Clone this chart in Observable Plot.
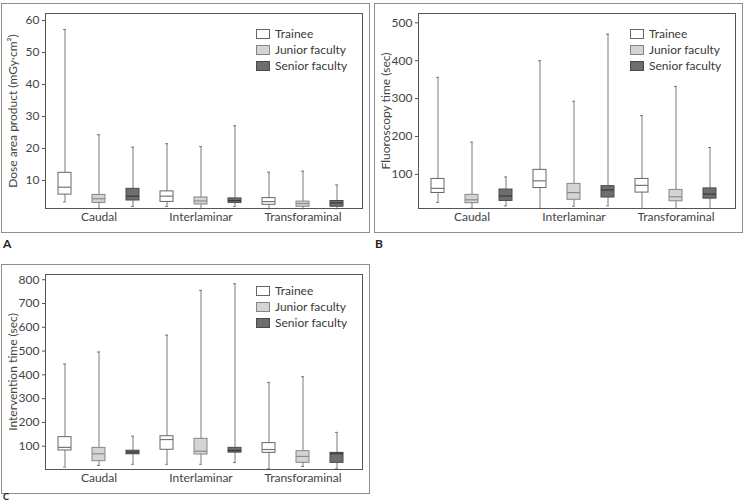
<!DOCTYPE html>
<html>
<head>
<meta charset="utf-8">
<script src="https://cdn.jsdelivr.net/npm/d3@7"></script>
<script src="https://cdn.jsdelivr.net/npm/@observablehq/plot@0.6"></script>
<style>
  html, body { margin: 0; padding: 0; background: #fff; width: 753px; height: 501px; overflow: hidden; }
  body { position: relative; font-family: Lato, "DejaVu Sans", sans-serif; color: #333; }
  .panel { position: absolute; box-sizing: border-box; border: 1px solid #8e8e8e; width: 369px; height: 230px; }
  .panel svg { display: block; }
  .legend { position: absolute; font-size: 12px; color: #3a3a3a; line-height: 16px; }
  .legend .row { display: flex; align-items: center; height: 16px; }
  .legend .sw { width: 12px; height: 8px; border: 1px solid #555; margin-right: 5px; }
  .tag { position: absolute; font-size: 12px; font-weight: bold; color: #222; line-height: 12px; }
</style>
</head>
<body>
<div id="pA" class="panel" style="left:1px; top:3px;"></div>
<div id="pB" class="panel" style="left:374px; top:3px;"></div>
<div id="pC" class="panel" style="left:1px; top:264px;"></div>
<div class="tag" style="left:3px; top:238px;">A</div>
<div class="tag" style="left:375px; top:238px;">B</div>
<div class="tag" style="left:3px; top:492px; font-size:9px; line-height:9px;">C</div>
<script>
// Categories and series
const groups = ["Caudal", "Interlaminar", "Transforaminal"];
const series = ["Trainee", "Junior faculty", "Senior faculty"];
const seriesFill = ["#ffffff", "#d4d4d4", "#6e6e6e"];
const seriesStroke = ["#666666", "#858585", "#4a4a4a"];
const seriesMedian = ["#777777", "#8a8a8a", "#3a3a3a"];

// Values in order: Caudal(Trainee, Junior, Senior), Interlaminar(...), Transforaminal(...)
// A: Dose area product (mGy·cm²)
const doseMin    = [3.3, 1.2, 1.9, 1.9, 1.2, 1.9, 1.2, 1.2, 1.2];
const doseQ1     = [5.6, 3.0, 3.75, 3.3, 2.5, 3.0, 2.4, 1.8, 1.8];
const doseMedian = [7.9, 4.3, 5.1, 5.1, 3.6, 3.75, 3.4, 2.8, 3.0];
const doseQ3     = [12.4, 5.5, 7.4, 6.6, 4.7, 4.4, 4.5, 3.4, 3.6];
const doseMax    = [57.2, 24.3, 20.4, 21.5, 20.6, 27.1, 12.6, 12.9, 8.6];
const doseTicks  = [10, 20, 30, 40, 50, 60];

// B: Fluoroscopy time (sec)
const fluoroMin    = [26, 11, 17, 10, 16, 17, 10, 10, 10];
const fluoroQ1     = [51, 24, 30, 64, 33, 39, 52, 29, 36];
const fluoroMedian = [63, 33, 43, 83, 52, 59, 71, 41, 48];
const fluoroQ3     = [88, 46, 60, 112, 75, 69, 88, 59, 63];
const fluoroMax    = [356, 185, 93, 400, 293, 470, 255, 332, 171];
const fluoroTicks  = [100, 200, 300, 400, 500];

// C: Intervention time (sec)
const interMin    = [12, 19, 24, 24, 24, 31, 5, 15, 5];
const interQ1     = [82, 37, 66, 85, 65, 73, 72, 30, 30];
const interMedian = [95, 68, 75, 128, 79, 82, 86, 57, 69];
const interQ3     = [138, 93, 81, 142, 131, 93, 113, 79, 72];
const interMax    = [445, 496, 142, 567, 755, 783, 368, 392, 158];
const interTicks  = [100, 200, 300, 400, 500, 600, 700, 800];

function buildRows(mins, q1s, meds, q3s, maxs) {
  const rows = [];
  let i = 0;
  for (const g of groups) {
    for (const s of series) {
      rows.push({key: g + "|" + s, group: g, series: s, min: mins[i], q1: q1s[i], median: meds[i], q3: q3s[i], max: maxs[i]});
      i++;
    }
  }
  return rows;
}

const keys = groups.flatMap(g => series.map(s => g + "|" + s));
const labelKeys = groups.map(g => g + "|" + series[1]);

function drawPanel(id, rows, ylabel, yDomain, yTicks, legendPos) {
  const el = document.getElementById(id);
  const boxMarks = series.map((s, i) => {
    const sub = rows.filter(d => d.series === s);
    return [
      Plot.barY(sub, {x: "key", y1: "q1", y2: "q3", fill: seriesFill[i], stroke: seriesStroke[i], strokeWidth: 1}),
      Plot.tickY(sub, {x: "key", y: "median", stroke: seriesMedian[i], strokeWidth: 1.2})
    ];
  });
  const chart = Plot.plot({
    width: 367,
    height: 228,
    marginLeft: 43,
    marginRight: 7,
    marginTop: 9,
    marginBottom: 24,
    style: {fontFamily: "Lato, 'DejaVu Sans', sans-serif", fontSize: "12px", color: "#444", background: "transparent"},
    x: {type: "band", domain: keys, paddingInner: 0.62, paddingOuter: 0.38, align: 0.42, axis: null},
    y: {domain: yDomain, axis: null},
    marks: [
      Plot.ruleX(rows, {x: "key", y1: "min", y2: "max", stroke: "#7a7a7a", strokeWidth: 1}),
      Plot.tickY(rows, {x: "key", y: "max", stroke: "#7a7a7a", insetLeft: 5, insetRight: 5}),
      Plot.tickY(rows, {x: "key", y: "min", stroke: "#7a7a7a", insetLeft: 5, insetRight: 5}),
      ...boxMarks.flat(),
      Plot.axisY({ticks: yTicks, tickSize: 3, tickPadding: 3, label: ylabel, labelAnchor: "center", labelArrow: "none", labelOffset: 37, stroke: "#555"}),
      Plot.axisX({ticks: labelKeys, tickSize: 0, tickPadding: 4, tickFormat: d => d.split("|")[0], label: null}),
      Plot.frame({stroke: "#555", strokeWidth: 1})
    ]
  });
  el.appendChild(chart);
  const lg = document.createElement("div");
  lg.className = "legend";
  lg.style.left = legendPos[0] + "px";
  lg.style.top = legendPos[1] + "px";
  series.forEach((s, i) => {
    const row = document.createElement("div");
    row.className = "row";
    const sw = document.createElement("div");
    sw.className = "sw";
    sw.style.background = seriesFill[i];
    sw.style.borderColor = seriesStroke[i];
    const tx = document.createElement("span");
    tx.textContent = s;
    row.appendChild(sw);
    row.appendChild(tx);
    lg.appendChild(row);
  });
  el.appendChild(lg);
}

drawPanel("pA", buildRows(doseMin, doseQ1, doseMedian, doseQ3, doseMax), "Dose area product (mGy·cm²)", [1.25, 62.2], doseTicks, [254, 22]);
drawPanel("pB", buildRows(fluoroMin, fluoroQ1, fluoroMedian, fluoroQ3, fluoroMax), "Fluoroscopy time (sec)", [10, 524.6], fluoroTicks, [255, 22]);
drawPanel("pC", buildRows(interMin, interQ1, interMedian, interQ3, interMax), "Intervention time (sec)", [2, 822], interTicks, [254, 18]);
</script>
</body>
</html>
